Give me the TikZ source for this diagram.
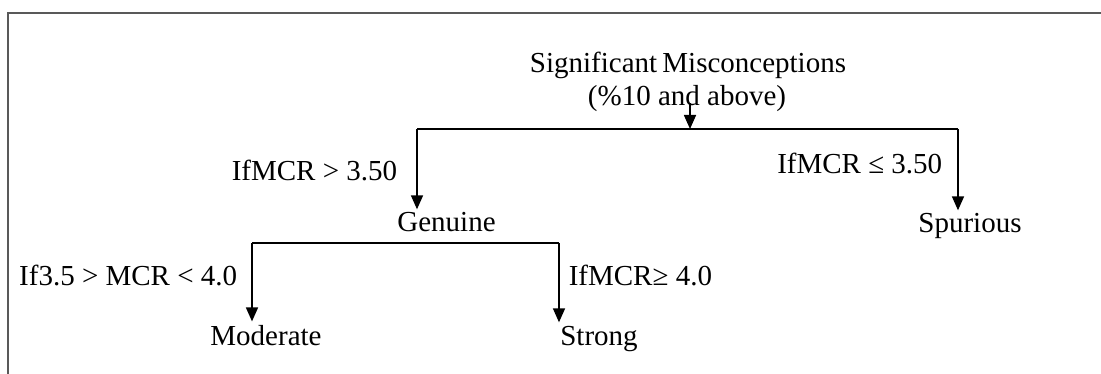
\documentclass[tikz,border=0pt]{standalone}
\usepackage{fontspec}
\setmainfont{Liberation Serif}
\usetikzlibrary{arrows.meta}

\begin{document}
\begin{tikzpicture}[x=0.75pt,y=-0.75pt,
font=\fontsize{21.75}{26}\selectfont, line width=1.2pt,
lbl/.style={inner sep=2pt, anchor=base},
condl/.style={inner sep=0pt, anchor=base east},
condr/.style={inner sep=0pt, anchor=base west},
arr/.style={-{Triangle[width=9pt,length=10.5pt]}}]
\useasboundingbox (0,0) rectangle (1101,374);
\draw[black!65, line width=2pt] (8,374) -- (8,13) -- (1101,13);
% root
\node[lbl] (title) at (688,73) {Significant\hspace{0.18em}Misconceptions};
\node[lbl] (sub) at (687,106) {(\%10 and above)};
\coordinate (root) at (690,129);
\coordinate (rootl) at (417,129);
\coordinate (rootr) at (958,129);
% first split
\node[lbl] (genuine) at (446.5,232) {Genuine};
\node[lbl] (spurious) at (970,233) {Spurious};
\node[condl] (gt) at (398,181) {IfMCR > 3.50};
\node[condl] (le) at (943,174) {IfMCR ≤ 3.50};
% second split
\coordinate (genl) at (252,243);
\coordinate (genr) at (559,243);
\node[lbl] (moderate) at (266,345) {Moderate};
\node[lbl] (strong) at (599,345) {Strong};
\node[condl] (mid) at (238,286) {If3.5 > MCR < 4.0};
\node[condr] (ge) at (568,286) {IfMCR≥ 4.0};
\draw[arr] ([yshift=2pt]sub.base -| root) -- (root);
\draw (rootl) -- (rootr);
\draw[arr] (rootl) -- (rootl |- genuine.north);
\draw[arr] (rootr) -- (rootr |- spurious.north);
\draw (genl) -- (genr);
\draw[arr] (genl) -- (genl |- moderate.north);
\draw[arr] (genr) -- (genr |- strong.north);
\end{tikzpicture}
\end{document}
